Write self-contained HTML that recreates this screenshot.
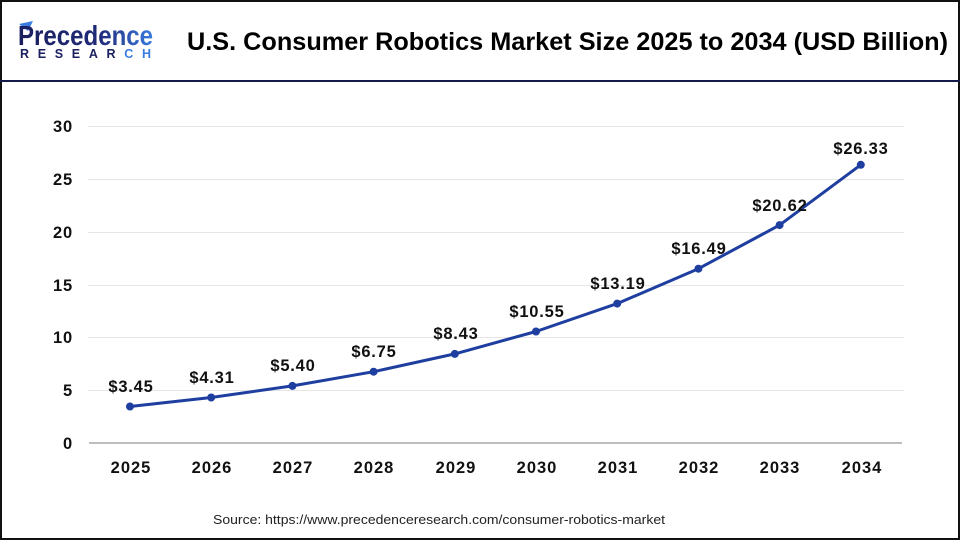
<!DOCTYPE html>
<html>
<head>
<meta charset="utf-8">
<style>
html,body{margin:0;padding:0;background:#fff;}
svg{display:block;}
text{font-family:"Liberation Sans",Arial,sans-serif;}
</style>
</head>
<body>
<svg width="960" height="540" viewBox="0 0 960 540" xmlns="http://www.w3.org/2000/svg">
  <defs>
    <linearGradient id="lg" x1="0" y1="0" x2="1" y2="0">
      <stop offset="0" stop-color="#1a1f5e"/>
      <stop offset="0.6" stop-color="#1f2a78"/>
      <stop offset="1" stop-color="#3a7be0"/>
    </linearGradient>
  </defs>
  <rect x="0" y="0" width="960" height="540" fill="#fff"/>
  <!-- outer border -->
  <rect x="1" y="1" width="958" height="538" fill="none" stroke="#111" stroke-width="2"/>
  <!-- header separator -->
  <rect x="0" y="80" width="960" height="2" fill="#141a4a"/>

  <!-- logo -->
  <path d="M19 24 L33 21 L28 31 Z" fill="#3a7be0"/>
  <text x="18" y="45" font-size="28" font-weight="bold" fill="url(#lg)" textLength="135" lengthAdjust="spacingAndGlyphs">Precedence</text>
  <text x="20" y="58" font-size="12.5" font-weight="bold" fill="#1a1f5e" textLength="131" lengthAdjust="spacing">RESEAR<tspan fill="#3a7be0">CH</tspan></text>

  <!-- title -->
  <text x="187" y="50" font-size="25" font-weight="bold" fill="#000" textLength="761" lengthAdjust="spacingAndGlyphs">U.S. Consumer Robotics Market Size 2025 to 2034 (USD Billion)</text>

  <!-- gridlines -->
  <g stroke="#e6e6e6" stroke-width="1">
    <line x1="88" y1="126.5" x2="904" y2="126.5"/>
    <line x1="88" y1="179.5" x2="904" y2="179.5"/>
    <line x1="88" y1="232.5" x2="904" y2="232.5"/>
    <line x1="88" y1="285.5" x2="904" y2="285.5"/>
    <line x1="88" y1="337.5" x2="904" y2="337.5"/>
    <line x1="88" y1="390.5" x2="904" y2="390.5"/>
  </g>
  <line x1="89" y1="443" x2="902" y2="443" stroke="#bdbdbd" stroke-width="2"/>

  <!-- y tick labels -->
  <g font-size="16.5" font-weight="bold" fill="#111" text-anchor="end" letter-spacing="0.8">
    <text x="73" y="132">30</text>
    <text x="73" y="185">25</text>
    <text x="73" y="238">20</text>
    <text x="73" y="291">15</text>
    <text x="73" y="343">10</text>
    <text x="73" y="396">5</text>
    <text x="73" y="449">0</text>
  </g>

  <!-- x tick labels -->
  <g font-size="16.5" font-weight="bold" fill="#111" text-anchor="middle" letter-spacing="1">
    <text x="131" y="473">2025</text>
    <text x="212" y="473">2026</text>
    <text x="293" y="473">2027</text>
    <text x="374" y="473">2028</text>
    <text x="456" y="473">2029</text>
    <text x="537" y="473">2030</text>
    <text x="618" y="473">2031</text>
    <text x="699" y="473">2032</text>
    <text x="780" y="473">2033</text>
    <text x="862" y="473">2034</text>
  </g>

  <!-- series line -->
  <polyline fill="none" stroke="#1f3fa0" stroke-width="3" stroke-linejoin="round"
    points="130,406.5 211.2,397.5 292.4,385.9 373.6,371.7 454.8,353.9 536,331.5 617.2,303.6 698.4,268.7 779.6,225.1 860.8,164.8"/>
  <g fill="#1f3fa0">
    <circle cx="130" cy="406.5" r="4"/>
    <circle cx="211.2" cy="397.5" r="4"/>
    <circle cx="292.4" cy="385.9" r="4"/>
    <circle cx="373.6" cy="371.7" r="4"/>
    <circle cx="454.8" cy="353.9" r="4"/>
    <circle cx="536" cy="331.5" r="4"/>
    <circle cx="617.2" cy="303.6" r="4"/>
    <circle cx="698.4" cy="268.7" r="4"/>
    <circle cx="779.6" cy="225.1" r="4"/>
    <circle cx="860.8" cy="164.8" r="4"/>
  </g>

  <!-- value labels -->
  <g font-size="16.5" font-weight="bold" fill="#111" text-anchor="middle" letter-spacing="0.8">
    <text x="131" y="392">$3.45</text>
    <text x="212" y="383">$4.31</text>
    <text x="293" y="371">$5.40</text>
    <text x="374" y="357">$6.75</text>
    <text x="456" y="339">$8.43</text>
    <text x="537" y="317">$10.55</text>
    <text x="618" y="289">$13.19</text>
    <text x="699" y="254">$16.49</text>
    <text x="780" y="211">$20.62</text>
    <text x="861" y="154">$26.33</text>
  </g>

  <!-- source -->
  <text x="213" y="524" font-size="13" fill="#222" textLength="452" lengthAdjust="spacingAndGlyphs">Source: https://www.precedenceresearch.com/consumer-robotics-market</text>
</svg>
</body>
</html>
